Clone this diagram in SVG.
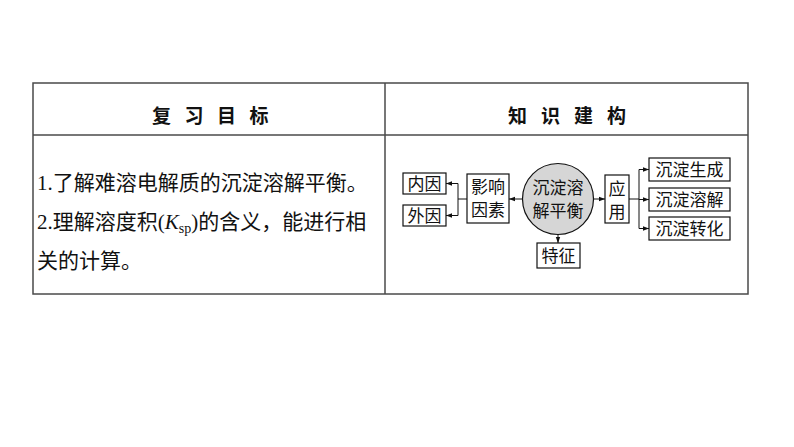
<svg xmlns="http://www.w3.org/2000/svg" width="794" height="447" viewBox="0 0 794 447">
<style>
.tbl{fill:none;stroke:#4a4a4a;stroke-width:1.5}
.hd{font-family:"Noto Sans CJK SC","Liberation Sans",sans-serif;font-size:19px;font-weight:bold;fill:#111}
.tx{font-family:"Noto Sans CJK SC",sans-serif;font-size:21px;fill:#111}
.sr{font-family:"Liberation Serif",serif}
.box{fill:#fff;stroke:#111;stroke-width:1.2}
.nt{font-family:"Noto Sans CJK SC",sans-serif;font-size:17px;fill:#111;text-anchor:middle}
.ln{fill:none;stroke:#111;stroke-width:1}
</style>
<defs>
<marker id="ah" viewBox="0 0 6 6" refX="6" refY="3" markerWidth="6" markerHeight="6" orient="auto" markerUnits="userSpaceOnUse">
<path d="M0,0.8 L6,3 L0,5.2 z" fill="#111"/>
</marker>
</defs>
<rect width="794" height="447" fill="#fff"/>
<g id="table">
<rect class="tbl" x="33" y="83" width="715" height="211"/>
<line class="tbl" x1="33" y1="135" x2="748" y2="135"/>
<line class="tbl" x1="385" y1="83" x2="385" y2="294"/>
<text class="hd" x="152 184.5 217 249.5" y="123">复习目标</text>
<text class="hd" x="508 541 574 607" y="123">知识建构</text>
<text class="tx" x="37" y="190"><tspan class="sr">1.</tspan>了解难溶电解质的沉淀溶解平衡。</text>
<text class="tx" x="37" y="229"><tspan class="sr">2.</tspan>理解溶度积<tspan class="sr">(<tspan font-style="italic">K</tspan><tspan font-size="14" dy="4">sp</tspan><tspan dy="-4">)</tspan></tspan>的含义，能进行相</text>
<text class="tx" x="37" y="268">关的计算。</text>
</g>
<g id="connectors">
<line class="ln" x1="523" y1="199" x2="509" y2="199" marker-end="url(#ah)"/>
<polyline class="ln" points="467,199 458,199"/>
<line class="ln" x1="458" y1="183.5" x2="458" y2="215.5"/>
<line class="ln" x1="458" y1="183.5" x2="446" y2="183.5" marker-end="url(#ah)"/>
<line class="ln" x1="458" y1="215.5" x2="446" y2="215.5" marker-end="url(#ah)"/>
<line class="ln" x1="558" y1="235" x2="558" y2="243" marker-end="url(#ah)"/>
<line class="ln" x1="593" y1="199" x2="605" y2="199" marker-end="url(#ah)"/>
<line class="ln" x1="629" y1="199" x2="639" y2="199"/>
<line class="ln" x1="639" y1="169.5" x2="639" y2="228.5"/>
<line class="ln" x1="639" y1="169.5" x2="649" y2="169.5" marker-end="url(#ah)"/>
<line class="ln" x1="639" y1="199.5" x2="649" y2="199.5" marker-end="url(#ah)"/>
<line class="ln" x1="639" y1="228.5" x2="649" y2="228.5" marker-end="url(#ah)"/>
</g>
<g id="n-neiyin"><rect class="box" x="403" y="173" width="43" height="21"/><text class="nt" x="424.5" y="190">内因</text></g>
<g id="n-waiyin"><rect class="box" x="403" y="205" width="43" height="21"/><text class="nt" x="424.5" y="222">外因</text></g>
<g id="n-yingxiang"><rect class="box" x="467" y="174" width="42" height="49"/><text class="nt" x="488" y="193" font-size="16">影响<tspan x="488" dy="23">因素</tspan></text></g>
<g id="n-center"><circle cx="558" cy="199" r="35.5" fill="#d6d6d6" stroke="#111" stroke-width="1.2"/><text class="nt" x="558" y="194" font-size="18">沉淀溶<tspan x="558" dy="23">解平衡</tspan></text></g>
<g id="n-tezheng"><rect class="box" x="537" y="243" width="43" height="25"/><text class="nt" x="558.5" y="262" font-size="18">特征</text></g>
<g id="n-yingyong"><rect class="box" x="605" y="175" width="24" height="48"/><text class="nt" x="617" y="195" font-size="16">应<tspan x="617" dy="23">用</tspan></text></g>
<g id="n-shengcheng"><rect class="box" x="649" y="158" width="81" height="23"/><text class="nt" x="689.5" y="176" font-size="18">沉淀生成</text></g>
<g id="n-rongjie"><rect class="box" x="649" y="188" width="81" height="23"/><text class="nt" x="689.5" y="206" font-size="18">沉淀溶解</text></g>
<g id="n-zhuanhua"><rect class="box" x="649" y="217" width="81" height="23"/><text class="nt" x="689.5" y="235" font-size="18">沉淀转化</text></g>
</svg>
